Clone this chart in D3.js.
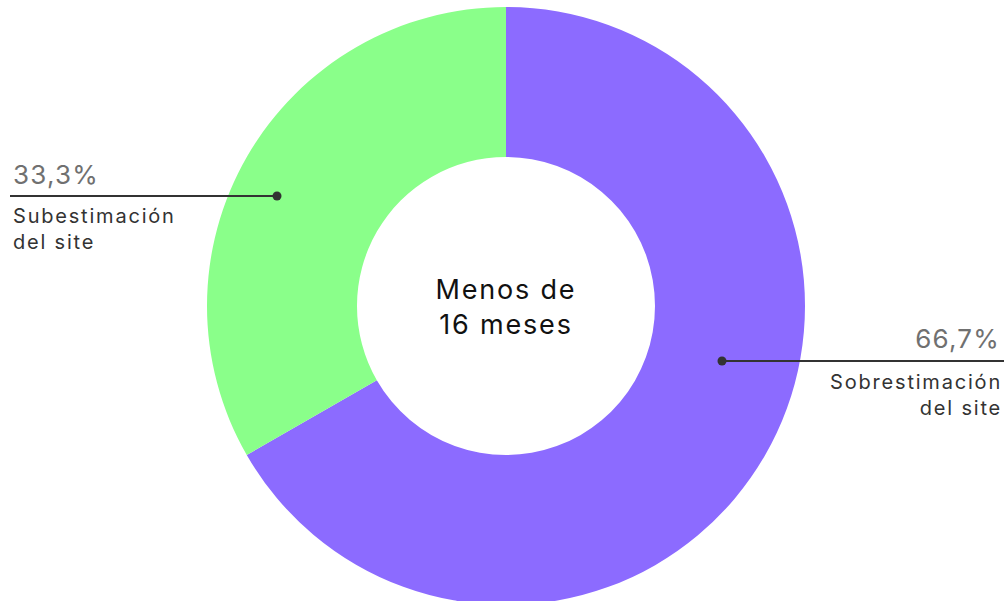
<!DOCTYPE html>
<html>
<head>
<meta charset="utf-8">
<script src="https://cdn.jsdelivr.net/npm/d3@7"></script>
<style>
  body { margin: 0; background: #fff; }
  svg { display: block; font-family: "Inter", "Noto Sans", sans-serif; }
</style>
</head>
<body>
<svg id="chart" width="1004" height="601"></svg>
<script>
// datos
var categories = ['Sobrestimación del site', 'Subestimación del site'];
var values = [66.7, 33.3];
var valueLabels = ['66,7%', '33,3%'];
var colors = ['#8c6bff', '#8aff8a'];
var centerLines = ['Menos de', '16 meses'];

var svg = d3.select('#chart');
var cx = 506, cy = 306;
var outerR = 299, innerR = 149;

var pie = d3.pie().sort(null).value(function(d){ return d; });
var arc = d3.arc().innerRadius(innerR).outerRadius(outerR);

var g = svg.append('g').attr('transform', 'translate(' + cx + ',' + cy + ')');

g.selectAll('path')
  .data(pie(values))
  .enter()
  .append('path')
  .attr('d', arc)
  .attr('fill', function(d, i){ return colors[i]; });

// texto central
g.append('text')
  .attr('text-anchor', 'middle')
  .attr('font-size', 27)
  .attr('letter-spacing', 1.8)
  .attr('fill', '#111')
  .selectAll('tspan')
  .data(centerLines)
  .enter()
  .append('tspan')
  .attr('x', 0)
  .attr('y', function(d, i){ return -7 + i * 35; })
  .text(function(d){ return d; });

// anotaciones: punto dentro del arco, línea hacia el borde
var notes = [
  { dot: [722, 361], lineEnd: 1004, anchor: 'end', tx: 1000, catX: 1002, valY: 348, catY: 389 },
  { dot: [277, 196], lineEnd: 10, anchor: 'start', tx: 13, catX: 13, valY: 184, catY: 223 }
];

notes.forEach(function(n, i){
  var ng = svg.append('g');
  ng.append('line')
    .attr('x1', n.dot[0]).attr('y1', n.dot[1])
    .attr('x2', n.lineEnd).attr('y2', n.dot[1])
    .attr('stroke', '#333').attr('stroke-width', 2);
  ng.append('circle')
    .attr('cx', n.dot[0]).attr('cy', n.dot[1])
    .attr('r', 4.5).attr('fill', '#333');
  ng.append('text')
    .attr('x', n.tx).attr('y', n.valY)
    .attr('text-anchor', n.anchor)
    .attr('font-size', 26)
    .attr('letter-spacing', 1.2)
    .attr('fill', '#707070')
    .text(valueLabels[i]);
  var words = categories[i].split(' ');
  var lines = [words[0], words.slice(1).join(' ')];
  ng.append('text')
    .attr('text-anchor', n.anchor)
    .attr('font-size', 20)
    .attr('letter-spacing', 1.8)
    .attr('fill', '#333')
    .selectAll('tspan')
    .data(lines)
    .enter()
    .append('tspan')
    .attr('x', n.catX)
    .attr('y', function(d, j){ return n.catY + j * 26; })
    .text(function(d){ return d; });
});
</script>
</body>
</html>
